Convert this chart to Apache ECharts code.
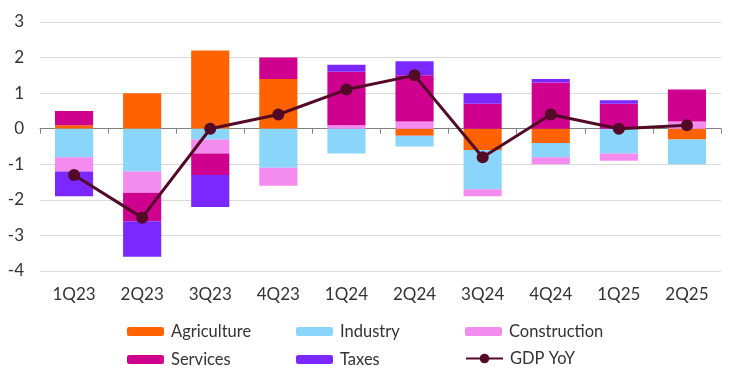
<!DOCTYPE html>
<html><head><meta charset="utf-8">
<script src="https://cdn.jsdelivr.net/npm/echarts@6/dist/echarts.min.js"></script>
<style>html,body{margin:0;padding:0;background:#fff}#c{width:744px;height:378px}</style>
</head><body><div id="c"></div>
<script>
var categories = ['1Q23','2Q23','3Q23','4Q23','1Q24','2Q24','3Q24','4Q24','1Q25','2Q25'];
var agriculture = [0.1, 1.0, 2.2, 1.4, 0.0, -0.2, -0.6, -0.4, 0.0, -0.3];
var industry    = [-0.8, -1.2, -0.3, -1.1, -0.7, -0.3, -1.1, -0.4, -0.7, -0.7];
var construction= [-0.4, -0.6, -0.4, -0.5, 0.1, 0.2, -0.2, -0.2, -0.2, 0.2];
var services    = [0.4, -0.8, -0.6, 0.6, 1.5, 1.3, 0.7, 1.3, 0.7, 0.9];
var taxes       = [-0.7, -1.0, -0.9, 0.0, 0.2, 0.4, 0.3, 0.1, 0.1, 0.0];
var gdpYoY      = [-1.3, -2.5, 0.0, 0.4, 1.1, 1.5, -0.8, 0.4, 0.0, 0.1];
var yTicks = [-4, 3, 1];

var font = 'Lato';
var colors = {Agriculture:'#FF6200', Industry:'#8AD5FA', Construction:'#F48CF0', Services:'#D0008F', Taxes:'#7A28FF', 'GDP YoY':'#520A26'};
function bar(name, data){
  return {name:name, type:'bar', stack:'s', data:data, barWidth:'56%', itemStyle:{color:colors[name]}};
}
function leg(name, left, top, icon){
  var l = {data:[name], left:left, top:top, itemWidth:37, itemHeight:9, itemGap:0,
    textStyle:{fontFamily:font, fontSize:16.5, color:'#333', padding:[0,0,0,2]}, selectedMode:false, padding:0};
  if(icon){ l.itemWidth = 37; l.itemHeight = 12; }
  return l;
}
var chart = echarts.init(document.getElementById('c'), null, {renderer:'canvas'});
chart.setOption({
  animation:false,
  grid:{left:40, right:23, top:22, bottom:107},
  legend:[
    leg('Agriculture',127,323), leg('Industry',296,323), leg('Construction',465,323),
    leg('Services',127,351), leg('Taxes',296,351), leg('GDP YoY',465,350,true)
  ],
  xAxis:[{type:'category', data:categories,
    axisLine:{onZero:true, lineStyle:{color:'#808080', width:1}},
    axisTick:{show:true, lineStyle:{color:'#808080'}, length:5},
    axisLabel:{show:false}},
   {type:'category', data:categories, position:'bottom',
    axisLine:{show:false, onZero:false}, axisTick:{show:false},
    axisLabel:{fontFamily:font, fontSize:17, color:'#333', margin:15, verticalAlign:'top'}}],
  yAxis:{type:'value', min:yTicks[0], max:yTicks[1], interval:yTicks[2],
    axisLine:{show:false}, axisTick:{show:false},
    splitLine:{lineStyle:{color:'#D9D9D9', width:1}},
    axisLabel:{fontFamily:font, fontSize:17, color:'#333', margin:16}},
  series:[
    bar('Agriculture', agriculture),
    bar('Industry', industry),
    bar('Construction', construction),
    bar('Services', services),
    bar('Taxes', taxes),
    {name:'GDP YoY', type:'line', data:gdpYoY, symbol:'circle', symbolSize:12,
      lineStyle:{color:colors['GDP YoY'], width:3}, itemStyle:{color:colors['GDP YoY']}, z:10}
  ]
});
</script></body></html>
